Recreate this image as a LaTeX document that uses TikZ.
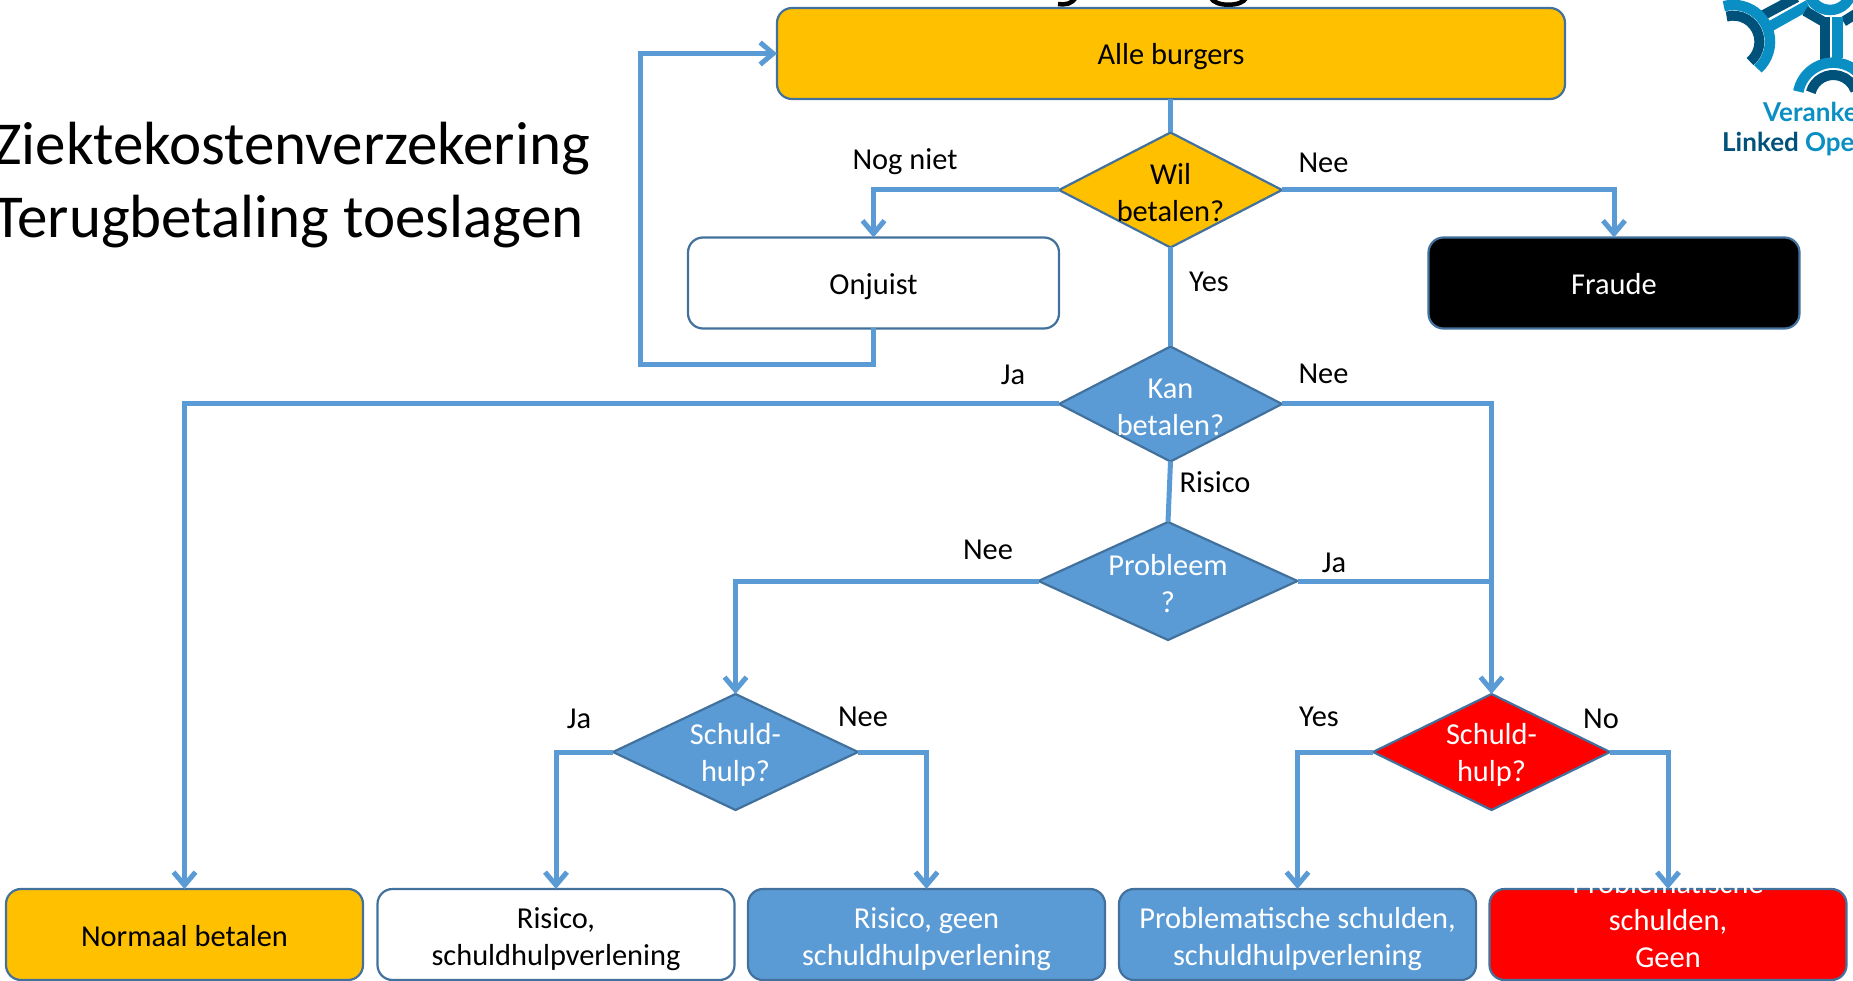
\documentclass[tikz,border=0pt]{standalone}
\usepackage{fontspec}
\setmainfont{Carlito}
\newfontfamily\logofont{Lato}
\usetikzlibrary{arrows.meta,shapes.geometric}
\definecolor{cblue}{HTML}{5B9BD5}
\definecolor{cedge}{HTML}{41719C}
\definecolor{cyell}{HTML}{FFC000}
\definecolor{logoL}{HTML}{0A8FC4}
\definecolor{logoD}{HTML}{00527A}
\tikzset{
  x=1pt,y=-1pt,
  rbox/.style={draw=cedge,line width=2.2pt,rounded corners=15pt,minimum height=91pt,inner sep=0pt,outer sep=0pt,align=center,font=\fontsize{30.4}{37}\selectfont},
  oneline/.style={text height=30pt,text depth=7pt},
  twolines/.style={text height=68pt,text depth=7pt},
  dia/.style={diamond,draw=cedge,line width=2.2pt,inner sep=0pt,outer sep=0pt},
  dtext/.style={align=center,inner sep=0pt,yshift=-3pt,font=\fontsize{30.4}{37}\selectfont},
  lbl/.style={inner sep=0pt,font=\fontsize{30.4}{37}\selectfont},
  big/.style={anchor=base west,inner sep=0pt,font=\fontsize{61}{73}\selectfont},
  conn/.style={draw=cblue,line width=5pt},
  arr/.style={conn,-{Straight Barb[length=13pt,width=22pt,line width=5pt]}},
  lgL/.style={draw=logoL,line width=10.5pt},
  lgD/.style={draw=logoD,line width=10pt},
}
\begin{document}
\begin{tikzpicture}
\useasboundingbox (0,0) rectangle (1853,981);
\clip (0,0) rectangle (1853,981);
\fill[white] (0,0) rectangle (1853,981);
% descenders of the title cut off by the page edge
\draw[black,line width=4.5pt] (1076,-3) .. controls (1072,4) and (1066,5) .. (1058,4);
\draw[black,line width=4.5pt] (1211,-2) .. controls (1215,7) and (1242,7) .. (1246,-2);
% left text
\node[big] (t1) at (-7,165) {Ziektekostenverzekering};
\node[big] (t2) at (-7,238) {Terugbetaling toeslagen};
% logo
\begin{scope}[shift={(1680,0)},xscale=1/3,yscale=1/3]
  \draw[lgL] (260,85) -- (385,15);
  \draw[lgD] (232,55) -- (350,-8);
  \draw[lgD] (375,33) -- (430,65);
  \draw[lgD] (490,65) -- (530,40);
  \draw[lgD] (435,50) -- (435,195);
  \draw[lgL] (472,50) -- (472,175);
  \draw[lgL] (450,-35) circle[radius=65];
  \draw[lgL] (160,125) ++(-105:110) arc[start angle=-105,end angle=48,radius=110];
  \draw[lgD] (160,125) ++(-105:78) arc[start angle=-105,end angle=50,radius=78];
  \draw[lgL] (460,295) ++(191:107) arc[start angle=191,end angle=340,radius=107];
  \draw[lgD] (460,295) ++(195:70) arc[start angle=195,end angle=340,radius=70];
\end{scope}
\node[anchor=base west,inner sep=0pt,font=\logofont\bfseries\fontsize{26}{30}\selectfont,text=logoL] (lg1) at (1763,122) {Veranke};
\node[anchor=base west,inner sep=0pt,font=\logofont\bfseries\fontsize{26}{30}\selectfont,text=logoD] (lg2) at (1722,152) {Linked \textcolor{logoL}{Ope}};
% boxes
\node[rbox,oneline,fill=cyell,minimum width=788pt] (alle) at (1171,53.5) {Alle burgers};
\node[rbox,oneline,fill=white,minimum width=371pt] (onjuist) at (873.5,283) {Onjuist};
\node[rbox,oneline,fill=black,text=white,minimum width=371pt] (fraude) at (1614,283) {Fraude};
\node[rbox,oneline,fill=cyell,minimum width=357pt] (normaal) at (184.5,934.5) {Normaal betalen};
\node[rbox,twolines,fill=white,minimum width=357pt] (risico) at (556,934.5) {Risico,\\schuldhulpverlening};
\node[rbox,twolines,fill=cblue,text=white,minimum width=357pt] (geen) at (926.5,934.5) {Risico, geen\\schuldhulpverlening};
\node[rbox,twolines,fill=cblue,text=white,minimum width=357pt] (prob) at (1297.5,934.5) {Problematische schulden,\\schuldhulpverlening};
\node[rbox,fill=red,minimum width=357pt] (rood) at (1668,934.5) {};
\node[dtext,text=white] (roodtxt) at (1668,917) {Problematische\\schulden,\\Geen};
% decisions
\node[dia,fill=cyell,minimum width=223pt,minimum height=115pt] (wil) at (1170.5,190) {};
\node[dtext,text=black] (wilt) at (wil.center) {Wil\\betalen?};
\node[dia,fill=cblue,minimum width=223pt,minimum height=115pt] (kan) at (1170.5,404) {};
\node[dtext,text=white] (kant) at (kan.center) {Kan\\betalen?};
\node[dia,fill=cblue,minimum width=259pt,minimum height=118pt] (pbl) at (1168,581) {};
\node[dtext,text=white] (pblt) at (pbl.center) {Probleem\\?};
\node[dia,fill=cblue,minimum width=245pt,minimum height=116pt] (sl) at (735.5,752) {};
\node[dtext,text=white] (slt) at (sl.center) {Schuld-\\hulp?};
\node[dia,fill=red,minimum width=237pt,minimum height=116pt] (sr) at (1491.5,752) {};
\node[dtext,text=white] (srt) at (sr.center) {Schuld-\\hulp?};
% connectors
\coordinate (loopa) at (640.5,365);
\coordinate (jn) at (sr.north |- pbl.east);
\draw[conn] (alle.south -| wil.north) -- (wil.north);
\draw[conn] (wil.south) -- (kan.north);
\draw[conn] (kan.south) -- (pbl.north);
\draw[arr] (wil.west) -| (onjuist.north);
\draw[arr] (wil.east) -| (fraude.north);
\draw[arr] (onjuist.south) |- (loopa) |- (alle.west);
\draw[arr] (kan.west) -| (normaal.north);
\draw[arr] (kan.east) -| (sr.north);
\draw[conn] (pbl.east) -- (jn);
\draw[arr] (pbl.west) -| (sl.north);
\draw[arr] (sl.west) -| (risico.north);
\draw[arr] (sl.east) -| (geen.north);
\draw[arr] (sr.west) -| (prob.north);
\draw[arr] (sr.east) -| (rood.north);
% labels
\node[lbl] (l1) at (905,162) {Nog niet};
\node[lbl] (l2) at (1323.5,163) {Nee};
\node[lbl] (l3) at (1209,282) {Yes};
\node[lbl] (l4) at (1013,375) {Ja};
\node[lbl] (l5) at (1323.5,374) {Nee};
\node[lbl] (l6) at (1215,482) {Risico};
\node[lbl] (l7) at (988,550) {Nee};
\node[lbl] (l8) at (1334,563) {Ja};
\node[lbl] (l9) at (579,719) {Ja};
\node[lbl] (l10) at (863,717) {Nee};
\node[lbl] (l11) at (1319,717) {Yes};
\node[lbl] (l12) at (1601,719) {No};
\end{tikzpicture}
\end{document}
